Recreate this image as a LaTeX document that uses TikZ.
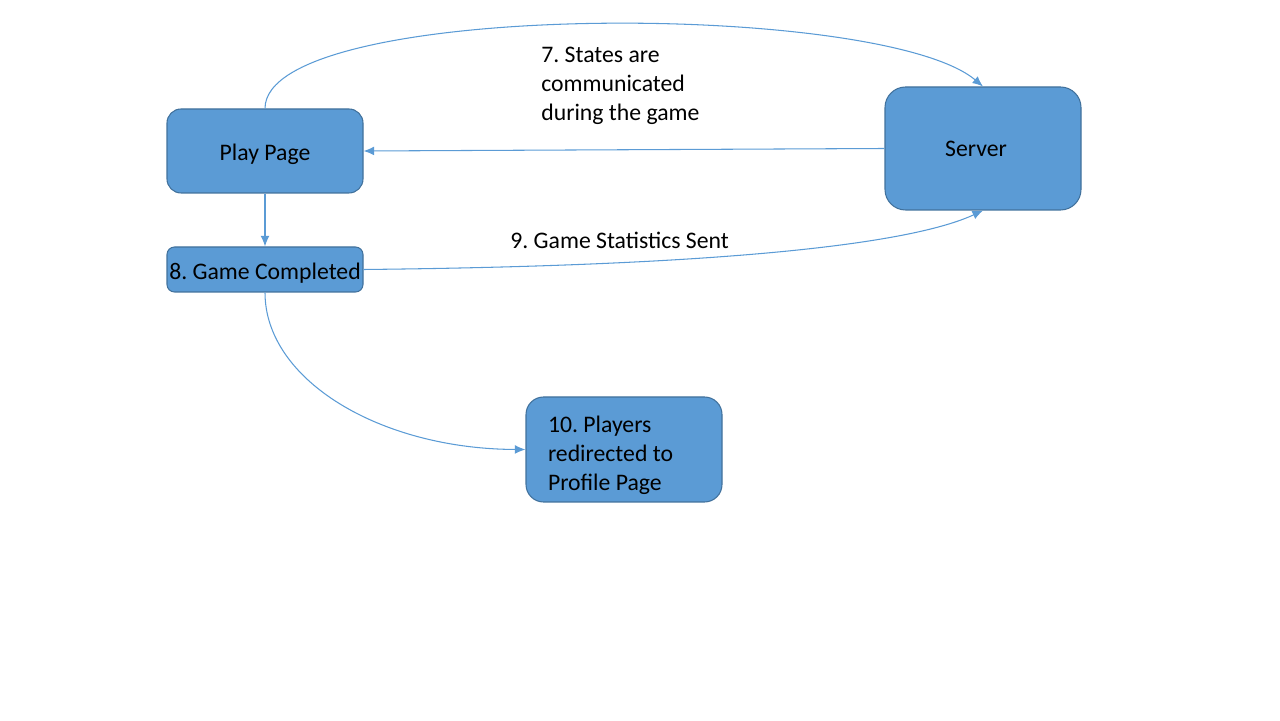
\documentclass[tikz,border=0pt]{standalone}
\usepackage{fontspec}
\setmainfont{Carlito}
\usepackage{xcolor}
\usetikzlibrary{arrows.meta}
\usetikzlibrary{positioning}
\definecolor{boxfill}{HTML}{5B9BD5}
\definecolor{boxline}{HTML}{41719C}
\definecolor{flow}{HTML}{5B9BD5}
\frenchspacing
\tikzset{
    pagebox/.style={
        draw=boxline,
        fill=boxfill,
        line width=0.6pt,
        minimum width=3.92cm,
        font=\fontsize{13.5}{16.4}\selectfont,
        text=black
    },
    lowtext/.style={
        text height=0.49cm,
        text depth=0.1cm
    },
    flowline/.style={
        draw=flow,
        line width=0.6pt,
        -{Latex[length=6pt,width=5pt]}
    },
    steplabel/.style={
        font=\fontsize{13.5}{16.4}\selectfont,
        inner sep=0pt,
        align=flush left
    }
}

\begin{document}
\begin{tikzpicture}
        \useasboundingbox (0,0) rectangle (25.6,14.4);

        \node[pagebox, lowtext, minimum height=1.68cm, rounded corners=0.28cm] (play) at (5.3,11.38) {Play Page};
        \node[pagebox, minimum height=2.46cm, rounded corners=0.41cm] (server) at (19.66,11.43) {Server\kern0.28cm};
        \node[pagebox, lowtext, minimum height=0.9cm, inner sep=0pt, rounded corners=0.15cm] (done) at (5.3,9.01) {8. Game Completed};
        \node[pagebox, minimum height=2.1cm, rounded corners=0.35cm, inner xsep=0.44cm, text width=3.04cm, align=flush left] (profile) at (12.48,5.41) {\rule{0pt}{0.57cm}10. Players\\redirected to\\Profile Page};

        % labels on the flows
        \node[steplabel, anchor=west] (states) at (10.82,12.68) {7. States are\\communicated\\during the game};
        \node[steplabel, anchor=west] (stats) at (10.2,9.6) {9. Game Statistics Sent};

        \draw[flowline] (play.north) .. controls (5.3,14.4) and (17.6,14.4) .. (server.north);
        \draw[flowline] (server.west) -- (play.east);
        \draw[flowline] (play.south) -- (done.north);
        \draw[flowline] (done.east) .. controls (16,9.1) and (18.6,9.7) .. (server.south);
        \draw[flowline] (done.south) .. controls (5.3,6.8) and (7.6,5.42) .. (profile.west);
\end{tikzpicture}
\end{document}
